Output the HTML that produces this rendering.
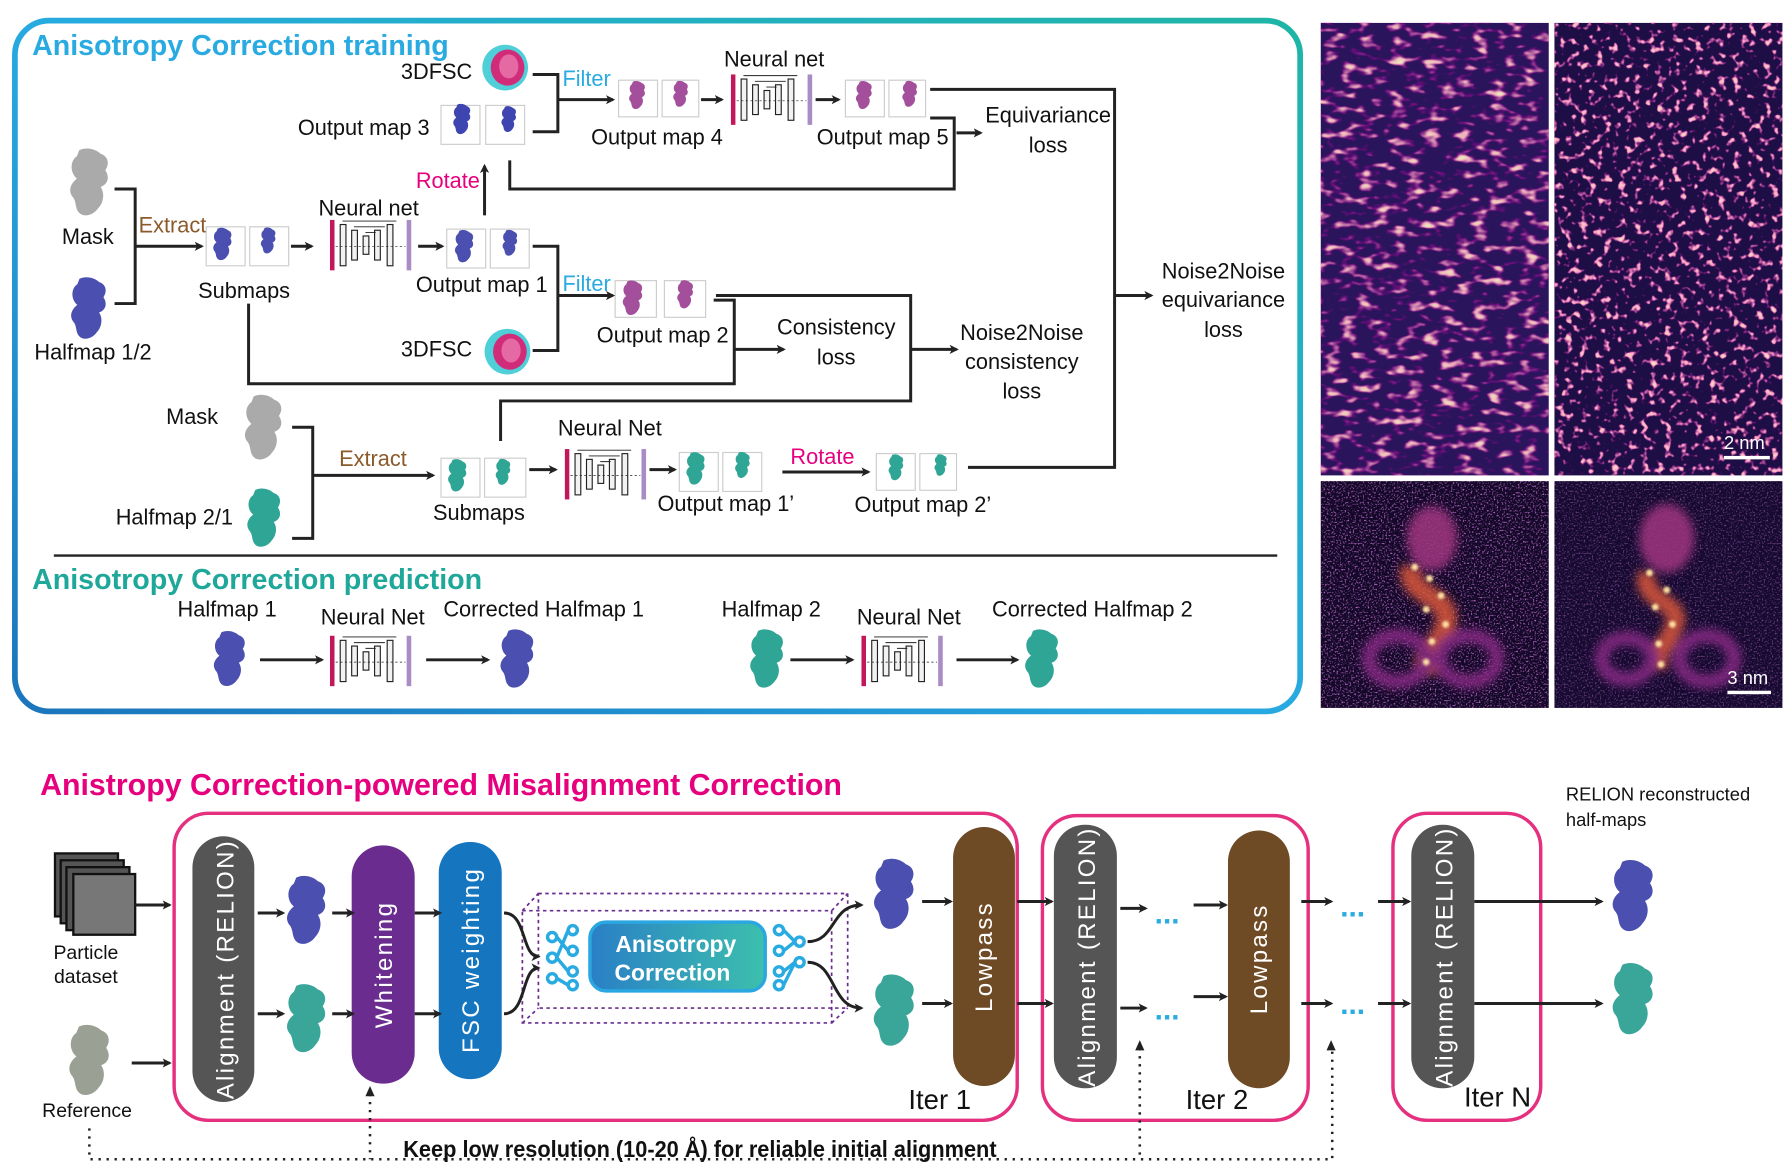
<!DOCTYPE html>
<html><head><meta charset="utf-8"><style>
html,body{margin:0;padding:0;background:#fff;}
svg{display:block}
text{font-family:"Liberation Sans",Arial,sans-serif;}
</style></head><body>
<svg width="1787" height="1169" viewBox="0 0 1560 1020.5" xmlns="http://www.w3.org/2000/svg">
<defs>
<linearGradient id="frame" x1="0" y1="1" x2="1" y2="0">
<stop offset="0" stop-color="#1b75bc"/><stop offset="0.5" stop-color="#27aae1"/><stop offset="1" stop-color="#1fb5a5"/></linearGradient>
<linearGradient id="ac" x1="0" y1="0" x2="1" y2="0"><stop offset="0" stop-color="#2a7fc6"/><stop offset="1" stop-color="#3cc0ad"/></linearGradient>
<marker id="ah" markerWidth="8" markerHeight="8" refX="6" refY="4" orient="auto" markerUnits="userSpaceOnUse"><path d="M0,0 L8,4 L0,8 L2,4z" fill="#222"/></marker>
<filter id="tex" x="0" y="0" width="100%" height="100%">
<feTurbulence type="fractalNoise" baseFrequency="0.07 0.14" numOctaves="2" seed="3"/>
<feColorMatrix type="matrix" values="0 0 0 0 0.85  2.5 0 0 0 -1.45  0 0 0 0 0.5  4 0 0 0 -2.0"/></filter>
<filter id="tex2" x="0" y="0" width="100%" height="100%">
<feTurbulence type="fractalNoise" baseFrequency="0.15" numOctaves="2" seed="8"/>
<feColorMatrix type="matrix" values="0 0 0 0 0.95  2.5 0 0 0 -1.45  0 0 0 0 0.55  6 0 0 0 -3.3"/></filter>
<filter id="grain" x="0" y="0" width="100%" height="100%">
<feTurbulence type="fractalNoise" baseFrequency="0.7" numOctaves="1" seed="5"/>
<feColorMatrix type="matrix" values="0 0 0 0 0.5  0 0 0 0 0.15  0 0 0 0 0.6  4 0 0 0 -2.1"/></filter>
<filter id="blur4"><feGaussianBlur stdDeviation="4"/></filter>
<filter id="blur2"><feGaussianBlur stdDeviation="1.2"/></filter>
<symbol id="blob" viewBox="0 0 40 60"><path d="M12,3 C18,0 26,2 30,6 C36,8 38,14 34,20 C38,26 36,32 30,34 C34,40 32,48 28,52 C24,58 16,60 12,56 C8,52 10,46 6,42 C2,36 6,30 10,27 C4,22 4,12 10,8z"/></symbol>
<symbol id="nn" viewBox="0 0 72 48"><rect x="0" y="2" width="4" height="44" fill="#c2185b"/><rect x="67" y="2" width="4" height="44" fill="#a98cc4"/>
<g fill="#f2f2f2" stroke="#222" stroke-width="1"><rect x="9" y="6" width="5" height="36"/><rect x="19" y="11" width="5" height="26"/><rect x="29" y="16" width="5" height="16"/><rect x="39" y="11" width="5" height="26"/><rect x="50" y="6" width="5" height="36"/></g>
<path d="M11,3 H58 M21,8 H48 M31,13 H40" stroke="#222" stroke-width="0.8" fill="none"/>
<path d="M5,25 H66" stroke="#222" stroke-width="0.6" stroke-dasharray="2 2"/></symbol>
<symbol id="fsc" viewBox="0 0 40 40"><circle cx="20" cy="20" r="19" fill="#4fd0d8"/><ellipse cx="22" cy="20" rx="14" ry="15" fill="#d12c7a"/><ellipse cx="23" cy="19" rx="8" ry="10" fill="#e56aa3"/></symbol>
</defs>

<rect x="13" y="18" width="1122" height="603" rx="30" fill="none" stroke="url(#frame)" stroke-width="5"/>
<line x1="47" y1="485" x2="1115" y2="485" stroke="#222" stroke-width="2"/>
<text x="28" y="48" font-size="25" font-weight="bold" fill="#29abe2">Anisotropy Correction training</text>
<text x="28" y="514" font-size="25" font-weight="bold" fill="#1fa89a">Anisotropy Correction prediction</text>

<g font-size="19" fill="#111">
<text x="350" y="69">3DFSC</text>
<text x="260" y="118">Output map 3</text>
<text x="516" y="126">Output map 4</text>
<text x="713" y="126">Output map 5</text>
<text x="632" y="58">Neural net</text>
<text x="915" y="107" text-anchor="middle">Equivariance</text>
<text x="915" y="133" text-anchor="middle">loss</text>
<text x="1068" y="243" text-anchor="middle">Noise2Noise</text>
<text x="1068" y="268" text-anchor="middle">equivariance</text>
<text x="1068" y="294" text-anchor="middle">loss</text>
<text x="54" y="213">Mask</text>
<text x="30" y="314">Halfmap 1/2</text>
<text x="173" y="260">Submaps</text>
<text x="278" y="188">Neural net</text>
<text x="363" y="255">Output map 1</text>
<text x="350" y="311">3DFSC</text>
<text x="521" y="299">Output map 2</text>
<text x="730" y="292" text-anchor="middle">Consistency</text>
<text x="730" y="318" text-anchor="middle">loss</text>
<text x="892" y="297" text-anchor="middle">Noise2Noise</text>
<text x="892" y="322" text-anchor="middle">consistency</text>
<text x="892" y="348" text-anchor="middle">loss</text>
<text x="145" y="370">Mask</text>
<text x="101" y="458">Halfmap 2/1</text>
<text x="378" y="454">Submaps</text>
<text x="487" y="380">Neural Net</text>
<text x="574" y="446">Output map 1’</text>
<text x="746" y="447">Output map 2’</text>
<text x="155" y="538">Halfmap 1</text>
<text x="280" y="545">Neural Net</text>
<text x="387" y="538">Corrected Halfmap 1</text>
<text x="630" y="538">Halfmap 2</text>
<text x="748" y="545">Neural Net</text>
<text x="866" y="538">Corrected Halfmap 2</text>
</g>
<g font-size="19">
<text x="491" y="75" fill="#29abe2">Filter</text>
<text x="491" y="254" fill="#29abe2">Filter</text>
<text x="363" y="164" fill="#e6007e">Rotate</text>
<text x="690" y="405" fill="#e6007e">Rotate</text>
<text x="121" y="203" fill="#8b5a2b">Extract</text>
<text x="296" y="407" fill="#8b5a2b">Extract</text>
</g>

<use href="#fsc" x="420" y="38" width="42" height="42"/>
<use href="#fsc" x="422" y="286" width="42" height="42"/>
<use href="#blob" x="55" y="128" width="45" height="62" fill="#aaa"/>
<use href="#blob" x="58" y="240" width="38" height="58" fill="#4a4fb0"/>
<use href="#blob" x="207" y="343" width="45" height="60" fill="#aaa"/>
<use href="#blob" x="212" y="424" width="36" height="56" fill="#2fa596"/>
<use href="#nn" x="288" y="190" width="72" height="48"/>
<use href="#nn" x="638" y="63" width="72" height="48"/>
<use href="#nn" x="493" y="390" width="72" height="48"/>
<use href="#nn" x="288" y="553" width="72" height="48"/>
<use href="#nn" x="752" y="553" width="72" height="48"/>
<use href="#blob" x="183" y="547" width="34" height="56" fill="#4a4fb0"/>
<use href="#blob" x="433" y="547" width="36" height="56" fill="#4a4fb0"/>
<use href="#blob" x="651" y="547" width="36" height="56" fill="#2fa596"/>
<use href="#blob" x="891" y="547" width="36" height="56" fill="#2fa596"/>

<g stroke="#ccc" stroke-width="1" fill="none">
<rect x="385" y="92" width="34" height="34"/><rect x="424" y="92" width="34" height="34"/>
<rect x="540" y="70" width="34" height="32"/><rect x="578" y="70" width="32" height="32"/>
<rect x="738" y="70" width="34" height="32"/><rect x="776" y="70" width="32" height="32"/>
<rect x="180" y="198" width="34" height="34"/><rect x="218" y="198" width="34" height="34"/>
<rect x="390" y="200" width="34" height="34"/><rect x="428" y="200" width="34" height="34"/>
<rect x="537" y="245" width="36" height="32"/><rect x="580" y="245" width="36" height="32"/>
<rect x="385" y="400" width="34" height="34"/><rect x="423" y="400" width="36" height="34"/>
<rect x="593" y="395" width="34" height="34"/><rect x="631" y="395" width="34" height="34"/>
<rect x="765" y="396" width="34" height="32"/><rect x="803" y="396" width="32" height="32"/>
</g>
<g>
<use href="#blob" x="388" y="90" width="30" height="28" fill="#3f45b0"/><use href="#blob" x="433" y="92" width="22" height="24" fill="#3f45b0"/>
<use href="#blob" x="542" y="70" width="28" height="26" fill="#a44f9c"/><use href="#blob" x="583" y="70" width="22" height="24" fill="#a44f9c"/>
<use href="#blob" x="740" y="70" width="28" height="26" fill="#a44f9c"/><use href="#blob" x="783" y="70" width="22" height="24" fill="#a44f9c"/>
<use href="#blob" x="183" y="198" width="22" height="30" fill="#4a4fb0"/><use href="#blob" x="225" y="198" width="18" height="24" fill="#4a4fb0"/>
<use href="#blob" x="393" y="200" width="24" height="30" fill="#4a4fb0"/><use href="#blob" x="436" y="200" width="18" height="24" fill="#4a4fb0"/>
<use href="#blob" x="540" y="244" width="24" height="32" fill="#a44f9c"/><use href="#blob" x="588" y="244" width="20" height="26" fill="#a44f9c"/>
<use href="#blob" x="388" y="400" width="22" height="30" fill="#2fa596"/><use href="#blob" x="430" y="400" width="18" height="24" fill="#2fa596"/>
<use href="#blob" x="596" y="394" width="22" height="30" fill="#2fa596"/><use href="#blob" x="639" y="394" width="18" height="24" fill="#2fa596"/>
<use href="#blob" x="768" y="396" width="28" height="24" fill="#2fa596"/><use href="#blob" x="810" y="396" width="22" height="20" fill="#2fa596"/>
</g>

<g stroke="#222" stroke-width="2.6" fill="none">
<path d="M465,65 H487 V115 H465"/>
<path d="M487,87 H535" marker-end="url(#ah)"/>
<path d="M612,87 H630" marker-end="url(#ah)"/>
<path d="M712,87 H732" marker-end="url(#ah)"/>
<path d="M812,78 H973 V408 H845"/>
<path d="M812,103 H833 V165 H445 V140"/>
<path d="M835,116 H856" marker-end="url(#ah)"/>
<path d="M973,258 H1005" marker-end="url(#ah)"/>
<path d="M423,188 V145" marker-end="url(#ah)"/>
<path d="M100,165 H118 V265 H100"/>
<path d="M118,215 H176" marker-end="url(#ah)"/>
<path d="M254,215 H272" marker-end="url(#ah)"/>
<path d="M365,215 H386" marker-end="url(#ah)"/>
<path d="M465,215 H487 V306 H465"/>
<path d="M487,258 H535" marker-end="url(#ah)"/>
<path d="M217,265 V335 H641 V262 H623"/>
<path d="M641,305 H684" marker-end="url(#ah)"/>
<path d="M625,258 H795 V350 H437 V385"/>
<path d="M795,305 H835" marker-end="url(#ah)"/>
<path d="M255,373 H273 V470 H255"/>
<path d="M273,415 H378" marker-end="url(#ah)"/>
<path d="M462,410 H485" marker-end="url(#ah)"/>
<path d="M567,410 H589" marker-end="url(#ah)"/>
<path d="M683,412 H758" marker-end="url(#ah)"/>
<path d="M227,576 H281" marker-end="url(#ah)"/>
<path d="M372,576 H426" marker-end="url(#ah)"/>
<path d="M690,576 H744" marker-end="url(#ah)"/>
<path d="M835,576 H888" marker-end="url(#ah)"/>
</g>

<rect x="1153" y="20" width="199" height="395" fill="#2a145c"/>
<rect x="1153" y="20" width="199" height="395" filter="url(#tex)"/>
<rect x="1357" y="20" width="199" height="395" fill="#1e0e46"/>
<rect x="1357" y="20" width="199" height="395" filter="url(#tex2)"/>
<rect x="1153" y="420" width="199" height="198" fill="#140828"/>
<rect x="1153" y="420" width="199" height="198" filter="url(#grain)"/>
<rect x="1357" y="420" width="199" height="198" fill="#160a30"/>
<rect x="1357" y="420" width="199" height="198" filter="url(#grain)" opacity="0.6"/>
<g filter="url(#blur4)" opacity="0.85">
<ellipse cx="1250" cy="470" rx="22" ry="28" fill="#a03580"/>
<path d="M1232,495 C1225,520 1270,520 1262,545 C1255,570 1240,565 1245,590" fill="none" stroke="#d8563a" stroke-width="18"/>
<ellipse cx="1220" cy="575" rx="25" ry="20" fill="none" stroke="#8a2a85" stroke-width="12"/>
<ellipse cx="1282" cy="575" rx="25" ry="20" fill="none" stroke="#8a2a85" stroke-width="12"/>
<ellipse cx="1455" cy="470" rx="24" ry="30" fill="#a03580"/>
<path d="M1438,500 C1430,525 1470,525 1462,545 C1455,565 1445,565 1448,585" fill="none" stroke="#d8563a" stroke-width="16"/>
<ellipse cx="1420" cy="575" rx="22" ry="18" fill="none" stroke="#8a2a85" stroke-width="12"/>
<ellipse cx="1490" cy="575" rx="24" ry="20" fill="none" stroke="#8a2a85" stroke-width="12"/>
</g>
<g fill="#ffe0a0" filter="url(#blur2)"><circle cx="1235" cy="495" r="3"/><circle cx="1248" cy="505" r="3"/><circle cx="1258" cy="520" r="3"/><circle cx="1245" cy="532" r="3"/><circle cx="1262" cy="545" r="3"/><circle cx="1250" cy="560" r="3"/><circle cx="1245" cy="578" r="3"/>
<circle cx="1440" cy="500" r="3"/><circle cx="1455" cy="515" r="3"/><circle cx="1445" cy="530" r="3"/><circle cx="1460" cy="545" r="3"/><circle cx="1448" cy="562" r="3"/><circle cx="1450" cy="580" r="3"/></g>
<g fill="#fff" font-size="16"><text x="1505" y="392">2 nm</text><rect x="1505" y="398" width="40" height="3"/>
<text x="1508" y="597">3 nm</text><rect x="1508" y="603" width="38" height="3"/></g>

<text x="35" y="694" font-size="27" font-weight="bold" fill="#e6007e" textLength="700" lengthAdjust="spacingAndGlyphs">Anistropy Correction-powered Misalignment Correction</text>
<g fill="none" stroke="#e4307f" stroke-width="3">
<rect x="152" y="710" width="736" height="268" rx="30"/>
<rect x="910" y="712" width="232" height="266" rx="30"/>
<rect x="1216" y="710" width="129" height="268" rx="30"/>
</g>
<g stroke="#111" stroke-width="2" fill="#555"><rect x="48" y="745" width="55" height="55"/><rect x="53" y="751" width="55" height="55"/><rect x="58" y="757" width="55" height="55"/><rect x="64" y="763" width="54" height="53" fill="#777"/></g>
<use href="#blob" x="55" y="893" width="45" height="65" fill="#9aa093"/>
<g font-size="17" fill="#111" text-anchor="middle"><text x="75" y="837">Particle</text><text x="75" y="858">dataset</text><text x="76" y="975">Reference</text></g>
<g font-size="16" fill="#111"><text x="1367" y="699">RELION reconstructed</text><text x="1367" y="721">half-maps</text></g>

<g>
<rect x="168" y="730" width="54" height="232" rx="27" fill="#555"/>
<rect x="307" y="738" width="55" height="208" rx="27" fill="#6a2d8f"/>
<rect x="383" y="735" width="55" height="207" rx="27" fill="#1576bf"/>
<rect x="832" y="722" width="54" height="226" rx="27" fill="#6e4a25"/>
<rect x="920" y="720" width="55" height="230" rx="27" fill="#555"/>
<rect x="1072" y="725" width="54" height="225" rx="27" fill="#6e4a25"/>
<rect x="1232" y="720" width="55" height="230" rx="27" fill="#555"/>
</g>
<g fill="#fff" font-size="21" letter-spacing="2">
<text transform="translate(204,846) rotate(-90)" text-anchor="middle">Alignment (RELION)</text>
<text transform="translate(342,842) rotate(-90)" text-anchor="middle">Whitening</text>
<text transform="translate(418,838) rotate(-90)" text-anchor="middle">FSC weighting</text>
<text transform="translate(866,835) rotate(-90)" text-anchor="middle">Lowpass</text>
<text transform="translate(956,835) rotate(-90)" text-anchor="middle">Alignment (RELION)</text>
<text transform="translate(1106,837) rotate(-90)" text-anchor="middle">Lowpass</text>
<text transform="translate(1268,835) rotate(-90)" text-anchor="middle">Alignment (RELION)</text>
</g>
<use href="#blob" x="246" y="762" width="42" height="65" fill="#4a4fb0"/>
<use href="#blob" x="246" y="850" width="42" height="78" fill="#3aa69a"/>
<use href="#blob" x="758" y="748" width="44" height="65" fill="#4a4fb0"/>
<use href="#blob" x="758" y="848" width="44" height="68" fill="#3aa69a"/>
<use href="#blob" x="1403" y="748" width="44" height="68" fill="#4a4fb0"/>
<use href="#blob" x="1403" y="838" width="44" height="68" fill="#3aa69a"/>

<g fill="none" stroke="#6a2d8f" stroke-width="1.5" stroke-dasharray="3 3">
<rect x="470" y="780" width="270" height="100"/><rect x="456" y="795" width="270" height="98"/>
<path d="M456,795 L470,780 M726,795 L740,780 M456,893 L470,880 M726,893 L740,880"/></g>
<rect x="515" y="805" width="153" height="60" rx="14" fill="url(#ac)" stroke="#2aa6e0" stroke-width="3"/>
<text x="590" y="831" font-size="20" font-weight="bold" fill="#fff" text-anchor="middle">Anisotropy</text>
<text x="587" y="856" font-size="20" font-weight="bold" fill="#fff" text-anchor="middle">Correction</text>
<g fill="none" stroke="#29abe2" stroke-width="3"><circle cx="482" cy="818" r="4"/><circle cx="482" cy="836" r="4"/><circle cx="482" cy="854" r="4"/><circle cx="500" cy="812" r="4"/><circle cx="500" cy="830" r="4"/><circle cx="500" cy="848" r="4"/><circle cx="500" cy="860" r="4"/>
<circle cx="680" cy="812" r="4"/><circle cx="680" cy="830" r="4"/><circle cx="680" cy="848" r="4"/><circle cx="680" cy="860" r="4"/><circle cx="698" cy="822" r="4"/><circle cx="698" cy="840" r="4"/>
<path d="M486,818 L496,830 M486,836 L496,812 M486,836 L496,848 M486,854 L496,860 M684,830 L694,822 M684,848 L694,840 M684,812 L694,822 M684,860 L694,840"/></g>

<g stroke="#222" stroke-width="2.6" fill="none">
<path d="M118,790 H148" marker-end="url(#ah)"/><path d="M115,928 H148" marker-end="url(#ah)"/>
<path d="M225,797 H247" marker-end="url(#ah)"/><path d="M225,885 H247" marker-end="url(#ah)"/>
<path d="M290,797 H308" marker-end="url(#ah)"/><path d="M290,885 H308" marker-end="url(#ah)"/>
<path d="M362,797 H384" marker-end="url(#ah)"/><path d="M362,885 H384" marker-end="url(#ah)"/>
<path d="M440,797 C460,797 455,835 470,835" marker-end="url(#ah)"/><path d="M440,885 C460,885 455,845 470,845" marker-end="url(#ah)"/>
<path d="M705,822 C730,822 725,790 752,790" marker-end="url(#ah)"/><path d="M705,840 C730,840 725,880 752,880" marker-end="url(#ah)"/>
<path d="M805,787 H830" marker-end="url(#ah)"/><path d="M805,876 H830" marker-end="url(#ah)"/>
<path d="M888,787 H918" marker-end="url(#ah)"/><path d="M888,876 H918" marker-end="url(#ah)"/>
<path d="M978,793 H1000" marker-end="url(#ah)"/><path d="M978,880 H1000" marker-end="url(#ah)"/>
<path d="M1042,790 H1070" marker-end="url(#ah)"/><path d="M1042,870 H1070" marker-end="url(#ah)"/>
<path d="M1136,787 H1162" marker-end="url(#ah)"/><path d="M1136,876 H1162" marker-end="url(#ah)"/>
<path d="M1203,787 H1230" marker-end="url(#ah)"/><path d="M1203,876 H1230" marker-end="url(#ah)"/>
<path d="M1287,787 H1398" marker-end="url(#ah)"/><path d="M1287,876 H1398" marker-end="url(#ah)"/>
</g>
<g fill="#29abe2" font-size="26" font-weight="bold"><text x="1008" y="806">...</text><text x="1008" y="890">...</text><text x="1170" y="800">...</text><text x="1170" y="885">...</text></g>
<g fill="none" stroke="#222" stroke-width="2.2" stroke-dasharray="2 5">
<path d="M78,985 V1012 H1163 V915"/><path d="M323,955 V1012"/><path d="M995,915 V1012"/></g>
<g fill="#222"><path d="M323,948 l-4,9 h8z"/><path d="M995,908 l-4,9 h8z"/><path d="M1162,908 l-4,9 h8z"/></g>
<text x="352" y="1010" font-size="20" font-weight="bold" fill="#111" textLength="518" lengthAdjust="spacingAndGlyphs">Keep low resolution (10-20 Å) for reliable initial alignment</text>
<g font-size="24" fill="#111"><text x="793" y="968">Iter 1</text><text x="1035" y="968">Iter 2</text><text x="1278" y="966">Iter N</text></g>
</svg>
</body></html>
